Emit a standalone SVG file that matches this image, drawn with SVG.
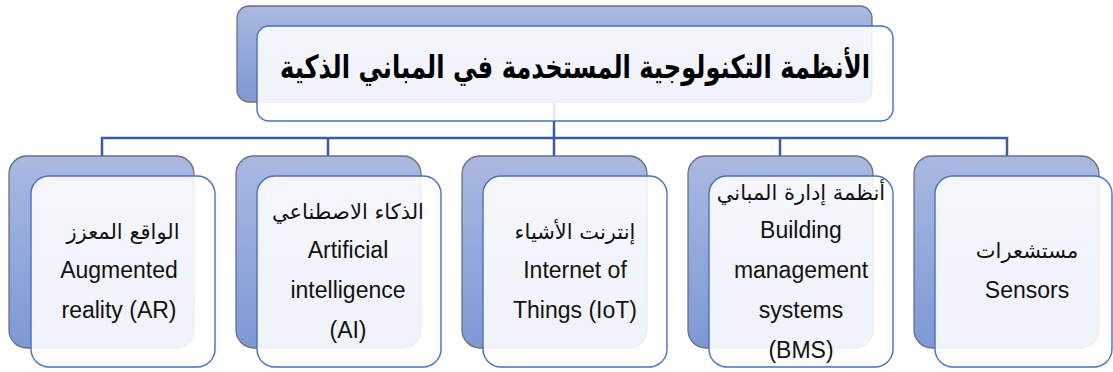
<svg xmlns="http://www.w3.org/2000/svg" width="1113" height="372" viewBox="0 0 1113 372">
<defs>
<linearGradient id="bg" x1="0" y1="0" x2="0" y2="1">
<stop offset="0" stop-color="#AAB9E1"/>
<stop offset="1" stop-color="#7D98D4"/>
</linearGradient>
<style>
.back{fill:url(#bg);stroke:#707070;stroke-width:1.3}
.front{fill:#FFFFFF;fill-opacity:0.88;stroke:#4472C4;stroke-width:1.4}
.conn{fill:none;stroke:#3A5CA0;stroke-width:2.5}
.en{font-family:"Liberation Sans",Arial,"DejaVu Sans",sans-serif;font-size:23px;fill:#111;text-anchor:middle}
.ar{font-family:"DejaVu Sans",sans-serif;font-size:21px;fill:#111;text-anchor:middle}
.title{font-family:"DejaVu Sans",sans-serif;font-size:32px;font-weight:bold;fill:#000;text-anchor:middle}
</style>
</defs>
<g id="connectors">
<path class="conn" d="M554,101 V138"/>
<path class="conn" d="M102,156 V138 H1007 V156"/>
<path class="conn" d="M328,138 V156 M554,138 V156 M780,138 V156"/>
</g>
<g id="root">
<rect class="back" x="237" y="6" width="635" height="96" rx="12"/>
<rect class="front" x="257" y="26" width="636" height="95" rx="12"/>
<text class="title" x="575" y="78" direction="rtl" textLength="590" lengthAdjust="spacingAndGlyphs">الأنظمة التكنولوجية المستخدمة في المباني الذكية</text>
</g>
<g id="ar-node">
<rect class="back" x="9" y="156" width="185" height="192" rx="18"/>
<rect class="front" x="31" y="176" width="184" height="191" rx="18"/>
<text class="ar" x="123" y="239" direction="rtl">الواقع المعزز</text>
<text class="en" x="119" y="278">Augmented</text>
<text class="en" x="119" y="318">reality (AR)</text>
</g>
<g id="ai-node">
<rect class="back" x="236" y="156" width="185" height="192" rx="18"/>
<rect class="front" x="257" y="176" width="184" height="191" rx="18"/>
<text class="ar" x="348" y="219" direction="rtl">الذكاء الاصطناعي</text>
<text class="en" x="348" y="258">Artificial</text>
<text class="en" x="348" y="298">intelligence</text>
<text class="en" x="348" y="338">(AI)</text>
</g>
<g id="iot-node">
<rect class="back" x="462" y="156" width="185" height="192" rx="18"/>
<rect class="front" x="483" y="176" width="184" height="191" rx="18"/>
<text class="ar" x="575" y="239" direction="rtl">إنترنت الأشياء</text>
<text class="en" x="575" y="278">Internet of</text>
<text class="en" x="575" y="318">Things (IoT)</text>
</g>
<g id="bms-node">
<rect class="back" x="688" y="156" width="185" height="192" rx="18"/>
<rect class="front" x="709" y="176" width="184" height="191" rx="18"/>
<text class="ar" x="801" y="200" direction="rtl">أنظمة إدارة المباني</text>
<text class="en" x="801" y="238">Building</text>
<text class="en" x="801" y="278">management</text>
<text class="en" x="801" y="318">systems</text>
<text class="en" x="801" y="358">(BMS)</text>
</g>
<g id="sensors-node">
<rect class="back" x="914" y="156" width="185" height="192" rx="18"/>
<rect class="front" x="935" y="176" width="177" height="191" rx="18"/>
<text class="ar" x="1027" y="258" direction="rtl">مستشعرات</text>
<text class="en" x="1027" y="298">Sensors</text>
</g>
</svg>
